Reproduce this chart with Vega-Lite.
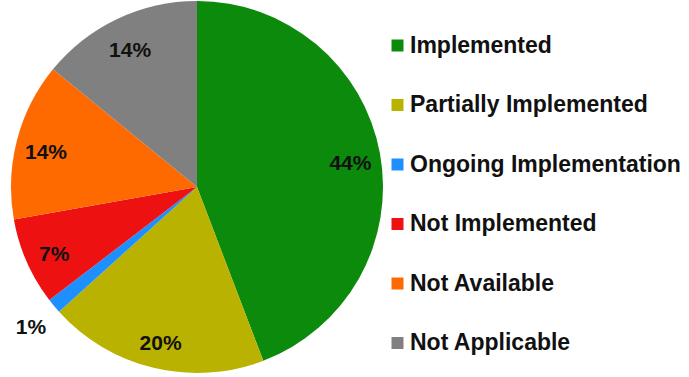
{
  "$schema": "https://vega.github.io/schema/vega-lite/v6.json",
  "autosize": {"type": "none"},
  "width": 374,
  "height": 374,
  "padding": {"left": 10, "top": 0, "right": 305, "bottom": 3},
  "background": "white",
  "data": {
    "values": [
      {"status": "Implemented", "value": 44.2, "label": "44%", "order": 1},
      {"status": "Partially Implemented", "value": 19.1, "label": "20%", "order": 2},
      {"status": "Ongoing Implementation", "value": 1.3, "label": "1%", "order": 3},
      {"status": "Not Implemented", "value": 7.6, "label": "7%", "order": 4},
      {"status": "Not Available", "value": 13.7, "label": "14%", "order": 5},
      {"status": "Not Applicable", "value": 14.1, "label": "14%", "order": 6}
    ]
  },
  "encoding": {
    "theta": {"field": "value", "type": "quantitative", "stack": true},
    "order": {"field": "order", "type": "quantitative"}
  },
  "layer": [
    {
      "mark": {"type": "arc", "outerRadius": 186},
      "encoding": {
        "color": {
          "field": "status",
          "type": "nominal",
          "sort": ["Implemented", "Partially Implemented", "Ongoing Implementation", "Not Implemented", "Not Available", "Not Applicable"],
          "scale": {
            "domain": ["Implemented", "Partially Implemented", "Ongoing Implementation", "Not Implemented", "Not Available", "Not Applicable"],
            "range": ["#0B8A0B", "#BAB200", "#1E8FFF", "#EE1111", "#FF6A00", "#808080"]
          },
          "legend": {
            "title": null,
            "orient": "none",
            "legendX": 376,
            "legendY": 34,
            "symbolType": "square",
            "symbolSize": 144,
            "symbolStrokeWidth": 0,
            "labelFont": "Liberation Sans",
            "labelFontWeight": "bold",
            "labelFontSize": 23,
            "labelColor": "#111111",
            "labelOffset": 1,
            "labelLimit": 400,
            "rowPadding": 35.5
          }
        }
      }
    },
    {
      "mark": {"type": "text", "radius": 156, "dy": 5, "font": "Liberation Sans", "fontWeight": "bold", "fontSize": 21, "color": "#111111"},
      "encoding": {"text": {"condition": {"test": "datum.value < 2", "value": ""}, "field": "label"}}
    },
    {
      "mark": {"type": "text", "radius": 216, "dy": 3, "font": "Liberation Sans", "fontWeight": "bold", "fontSize": 21, "color": "#111111"},
      "encoding": {"text": {"condition": {"test": "datum.value >= 2", "value": ""}, "field": "label"}}
    }
  ],
  "config": {"view": {"stroke": null}}
}
